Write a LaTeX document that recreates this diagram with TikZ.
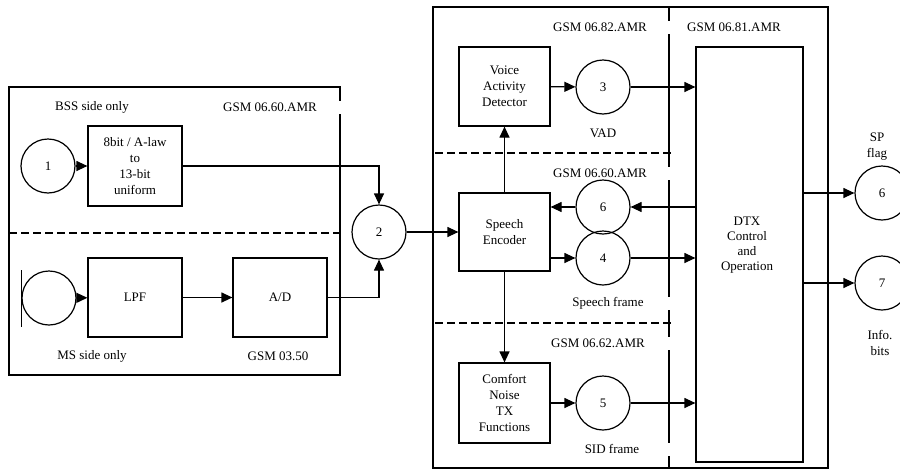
\documentclass[tikz,border=0pt]{standalone}
\usepackage{fontspec}
\setmainfont{Liberation Serif}
\usetikzlibrary{arrows.meta,positioning}

\begin{document}
\begin{tikzpicture}[x=1pt,y=-1pt,line width=1.2pt,
    font=\fontsize{13}{16}\selectfont,
    blk/.style={draw,align=center,inner sep=0pt,minimum width=91pt,minimum height=79pt},
    ball/.style={draw,circle,inner sep=0pt,minimum size=54pt},
    tag/.style={fill=white,inner sep=0pt,minimum width=148pt,minimum height=13pt},
    arr/.style={-{Triangle[length=11pt,width=10pt]}},
    sep/.style={line width=2.6pt,dash pattern=on 8pt off 4pt}]
  \useasboundingbox (0,0) rectangle (900,469);
  \clip (0,0) rectangle (900,469);

  % frames
  \draw (9,87) rectangle (340,375);
  \draw (433,7) rectangle (828,468);
  \draw (669,7) -- (669,468);
  \draw[sep] (9,233) -- (340,233);
  \draw[sep] (435,153) -- (672,153);
  \draw[sep] (435,323) -- (672,323);

  % frame labels
  \node[tag] (ltag) at (270,107) {GSM 06.60.AMR};
  \node[tag] (vtag) at (600,27) {GSM 06.82.AMR};
  \node[tag] (dtag) at (734,27) {GSM 06.81.AMR};
  \node[tag] (etag) at (600,173) {GSM 06.60.AMR};
  \node[tag] (ctag) at (598,343) {GSM 06.62.AMR};
  \node[tag] (sfr) at (608,303) {Speech frame};
  \node[tag] (sid) at (612,449) {SID frame};
  \node (bss) at (92,107) {BSS side only};
  \node (ms) at (92,356) {MS side only};
  \node (adtag) at (278,356) {GSM 03.50};
  \node (vadtxt) at (603,133) {VAD};
  \node[align=center] (spf) at (877,147) {SP\\flag};
  \node[align=center] (inf) at (880,343) {Info.\\bits};

  % left part
  \node[ball] (c1) at (48,166) {1};
  \node[blk,minimum width=94pt,minimum height=80pt] (conv) at (135,166) {8bit / A-law\\to\\13-bit\\uniform};
  \node[ball] (mic) at (49,298) {};
  \draw ([yshift=28pt]mic.west) -- ([yshift=-29pt]mic.west);
  \node[blk,minimum width=94pt] (lpf) at (135,297.5) {LPF};
  \node[blk,minimum width=94pt] (ad) at (280,297.5) {A/D};
  \node[ball] (c2) at (379,232) {2};

  % encoder part
  \node[blk] (vad) at (504.5,86.5) {Voice\\Activity\\Detector};
  \node[blk,minimum height=78pt] (enc) at (504.5,232) {Speech\\Encoder};
  \node[blk,minimum height=80pt] (cn) at (504.5,403) {Comfort\\Noise\\TX\\Functions};
  \node[ball] (c3) at (603,87) {3};
  \node[ball] (c6m) at (603,207) {6};
  \node[ball] (c4) at (603,258) {4};
  \node[ball] (c5) at (603,403) {5};

  % dtx part
  \node[draw,inner sep=0pt,minimum width=107pt,minimum height=415pt] (dtx) at (749.5,254.5) {};
  \node[align=center,font=\fontsize{13}{15}\selectfont] (dtxtxt) at (747,245) {DTX\\Control\\and\\Operation};
  \node[ball] (c6) at (882,193) {6};
  \node[ball] (c7) at (882,283) {7};

  % connectors
  \draw[arr] (c1) -- (conv);
  \draw[arr] (conv.east) -| (c2.north);
  \draw[arr] (mic) -- (lpf);
  \draw[arr] (lpf) -- (ad);
  \draw[arr] (ad.east) -| (c2.south);
  \draw[arr] (c2) -- (enc);
  \draw[arr] (enc) -- (vad);
  \draw[arr] (enc) -- (cn);
  \draw[arr] (vad) -- (c3);
  \draw[arr] (c3.east) -- (c3.east -| dtx.west);
  \draw[arr] (c6m.east -| dtx.west) -- (c6m.east);
  \draw[arr] (c6m.west) -- (c6m.west -| enc.east);
  \draw[arr] (c4.west -| enc.east) -- (c4.west);
  \draw[arr] (c4.east) -- (c4.east -| dtx.west);
  \draw[arr] (cn) -- (c5);
  \draw[arr] (c5.east) -- (c5.east -| dtx.west);
  \draw[arr] (c6.west -| dtx.east) -- (c6.west);
  \draw[arr] (c7.west -| dtx.east) -- (c7.west);
\end{tikzpicture}
\end{document}
